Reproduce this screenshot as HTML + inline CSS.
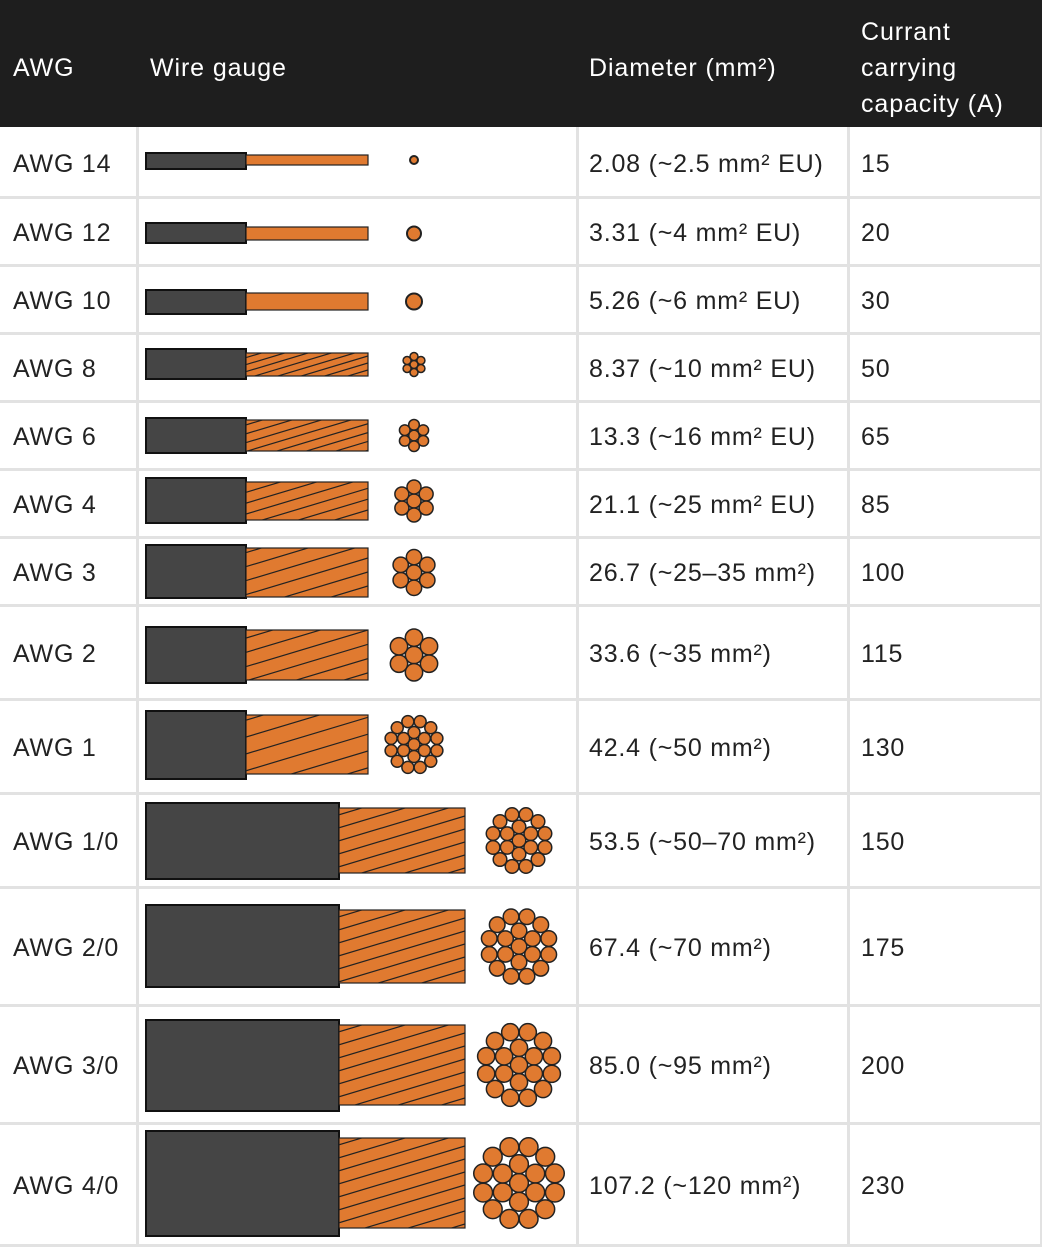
<!DOCTYPE html>
<html><head><meta charset="utf-8"><style>
html,body{margin:0;width:1042px;height:1247px;background:#fff;overflow:hidden;font-family:"Liberation Sans",sans-serif;}
svg{position:absolute;left:0;top:0;display:block}
</style></head><body>
<svg id="s" width="1042" height="1247" xmlns="http://www.w3.org/2000/svg" font-family="Liberation Sans, sans-serif">
<rect x="0" y="0" width="1042" height="127" fill="#1e1e1e"/>
<g fill="#fff" font-size="25" letter-spacing="0.9">
<text x="13" y="76">AWG</text>
<text x="150" y="76">Wire gauge</text>
<text x="589" y="76">Diameter (mm²)</text>
<text x="861" y="40">Currant</text>
<text x="861" y="76">carrying</text>
<text x="861" y="112">capacity (A)</text>
</g>
<g id="grid"></g>
<g id="wires"></g>
<g id="txt" fill="#222" font-size="25" letter-spacing="0.8"></g>
</svg>
<script>
var NS="http://www.w3.org/2000/svg";
function el(p,t,a,txt){var e=document.createElementNS(NS,t);for(var k in a)e.setAttribute(k,a[k]);if(txt)e.textContent=txt;p.appendChild(e);return e;}
var bounds=[127,197,265,333,401,469,537,605,699,793,887,1005,1123,1245];
var grid=document.getElementById('grid'),W=document.getElementById('wires'),T=document.getElementById('txt');
for(var i=1;i<bounds.length;i++) el(grid,'rect',{x:0,y:bounds[i]-1,width:1042,height:3,fill:'#e2e2e2'});
[137,577,848].forEach(function(x){el(grid,'rect',{x:x-1,y:127,width:3,height:1120,fill:'#e2e2e2'});});
el(grid,'rect',{x:1040,y:127,width:2,height:1120,fill:'#e2e2e2'});
var rows=[
["AWG 14","2.08 (~2.5 mm² EU)","15",153,169,155,165,4,0,0],
["AWG 12","3.31 (~4 mm² EU)","20",223,243,227,240,7,0,0],
["AWG 10","5.26 (~6 mm² EU)","30",290,314,293,310,8,0,0],
["AWG 8","8.37 (~10 mm² EU)","50",349,379,353,376,12,7,0],
["AWG 6","13.3 (~16 mm² EU)","65",418,453,420,451,16,7,0],
["AWG 4","21.1 (~25 mm² EU)","85",478,523,482,520,21,7,0],
["AWG 3","26.7 (~25–35 mm²)","100",545,598,548,597,23,7,0],
["AWG 2","33.6 (~35 mm²)","115",627,683,630,680,26,7,0],
["AWG 1","42.4 (~50 mm²)","130",711,779,715,774,30,19,0],
["AWG 1/0","53.5 (~50–70 mm²)","150",803,879,808,873,34,19,1],
["AWG 2/0","67.4 (~70 mm²)","175",905,987,910,983,39,19,1],
["AWG 3/0","85.0 (~95 mm²)","200",1020,1111,1025,1105,43,19,1],
["AWG 4/0","107.2 (~120 mm²)","230",1131,1236,1138,1228,47,19,1]];
var OR="#e07a30";
rows.forEach(function(r,i){
  var cy=(bounds[i]+bounds[i+1])/2+1;
  el(T,'text',{x:13,y:cy+9},r[0]);el(T,'text',{x:589,y:cy+9},r[1]);el(T,'text',{x:861,y:cy+9},r[2]);
  var big=r[9],ix=146,ie=big?339:246,ce=big?465:368,ccx=big?519:414;
  el(W,'rect',{x:ix,y:r[3],width:ie-ix,height:r[4]-r[3],fill:'#454545',stroke:'#111','stroke-width':2});
  el(W,'rect',{x:ie,y:r[5],width:ce-ie,height:r[6]-r[5],fill:OR,stroke:'#222','stroke-width':1.2});
  if(r[8]){
    var cid='c'+i;var cp=el(W,'clipPath',{id:cid});el(cp,'rect',{x:ie,y:r[5],width:ce-ie,height:r[6]-r[5]});
    var g=el(W,'g',{'clip-path':'url(#'+cid+')',stroke:'#222','stroke-width':1.2});
    var sp=big?13:Math.max(7,(r[6]-r[5])/3.5),slope=0.3;
    for(var y=r[5]-200;y<r[6]+200;y+=sp) el(g,'line',{x1:ie,y1:y+(ce-ie)*slope,x2:ce,y2:y});
  }
  var R=r[7],cyc=(r[5]+r[6])/2;
  if(!r[8]){el(W,'circle',{cx:ccx,cy:cyc,r:R,fill:OR,stroke:'#222','stroke-width':2});}
  else if(r[8]==7){var s=R/3;el(W,'circle',{cx:ccx,cy:cyc,r:s,fill:OR,stroke:'#222','stroke-width':1.5});
    for(var k=0;k<6;k++){var a=k*Math.PI/3+Math.PI/2;el(W,'circle',{cx:ccx+2*s*Math.cos(a),cy:cyc+2*s*Math.sin(a),r:s,fill:OR,stroke:'#222','stroke-width':1.5});}}
  else{var s=R/5;el(W,'circle',{cx:ccx,cy:cyc,r:s,fill:OR,stroke:'#222','stroke-width':1.5});
    for(var k=0;k<6;k++){var a=k*Math.PI/3+Math.PI/2;el(W,'circle',{cx:ccx+2*s*Math.cos(a),cy:cyc+2*s*Math.sin(a),r:s,fill:OR,stroke:'#222','stroke-width':1.5});}
    for(var k=0;k<12;k++){var a=k*Math.PI/6+Math.PI/12;el(W,'circle',{cx:ccx+3.95*s*Math.cos(a),cy:cyc+3.95*s*Math.sin(a),r:s,fill:OR,stroke:'#222','stroke-width':1.5});}}
});
</script>
</body></html>
